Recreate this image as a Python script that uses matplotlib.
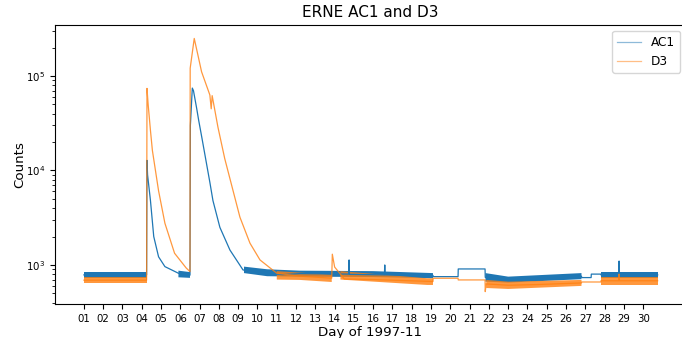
import matplotlib
matplotlib.use("Agg")
import matplotlib.pyplot as plt

nan = float("nan")

# day of month (fractional) and counts
ac1_day = [1.0, 4.25, 4.27, 4.30, 4.45, 4.62, 4.87, 5.2, 5.9, 6.3, 6.5,
           6.52, 6.62, 6.68, 6.85, 6.95, 7.12, 7.53, 7.69, 8.05, 8.57, 9.25,
           10.13, 11.3, 12.2, 14.73, 14.75, 14.77, 16.58, 16.6, 16.62, 19.1,
           19.11, 20.4, 20.41, 21.8, 21.81, 23.0, 24.0, 26.8, 26.81, 27.3,
           27.31, 27.8, 27.81, 28.73, 28.75, 28.77, 30.75]
ac1_counts = [785, 785, 12800, 9000, 4800, 2000, 1220, 960, 817, 784, 780,
              30000, 74600, 70000, 45000, 34000, 22000, 7500, 4800, 2500, 1440, 885,
              830, 790, 810, 800, 1130, 795, 785, 1000, 785, 775,
              752, 752, 907, 907, 740, 700, 720, 760, 735, 735,
              800, 800, 785, 785, 1100, 785, 785]

d3_day = [1.0, 4.25, 4.27, 4.33, 4.45, 4.55, 4.87, 5.2, 5.7, 6.3, 6.5,
          6.51, 6.72, 6.93, 7.1, 7.53, 7.6, 7.65, 7.95, 8.3, 9.09, 9.61,
          10.13, 11.0, 12.2, 13.85, 13.88, 14.0, 14.3, 14.5, 16.0, 19.1,
          19.11, 20.4, 20.41, 21.8, 21.81, 21.86, 23.0, 24.5, 26.8, 26.81,
          27.8, 27.81, 28.73, 28.75, 28.77, 30.75]
d3_counts = [690, 690, 74000, 50000, 26500, 16300, 6100, 2760, 1330, 930, 850,
             121000, 250000, 160000, 111000, 63000, 45000, 62000, 28700, 13400, 3200, 1700,
             1130, 817, 760, 725, 1300, 950, 800, 710, 700, 668,
             723, 723, 694, 694, 522, 630, 610, 620, 645, 660,
             660, 680, 680, 800, 680, 680]

# spread of the noisy stretches (lower / upper edge of the band)
ac1_band_day = [1.0, 4.25, nan, 5.9, 6.5, nan, 9.3, 10.5, 12.2, 16.0, 19.1,
                nan, 21.82, 23.0, 26.8, nan, 27.82, 30.75]
ac1_band_lo = [723, 723, nan, 740, 730, nan, 820, 760, 752, 745, 723,
               nan, 666, 650, 707, nan, 723, 723]
ac1_band_hi = [850, 850, nan, 870, 840, nan, 960, 900, 870, 860, 820,
               nan, 820, 752, 820, nan, 850, 850]

d3_band_day = [1.0, 4.25, nan, 11.0, 12.2, 13.85, nan, 14.3, 18.8, 19.1,
               nan, 21.86, 23.0, 26.8, nan, 27.82, 30.75]
d3_band_lo = [640, 640, nan, 700, 694, 660, nan, 700, 614, 614,
              nan, 570, 557, 600, nan, 614, 614]
d3_band_hi = [752, 752, nan, 860, 830, 790, nan, 860, 723, 723,
              nan, 694, 666, 694, nan, 752, 752]

tick_days = list(range(1, 31))
tick_labels = ["%02d" % d for d in tick_days]

fig = plt.figure(figsize=(6.82, 3.38), dpi=100)
ax = fig.add_axes([55 / 682, 1 - 304 / 338, (686 - 55) / 682, (304 - 25) / 338])

ax.fill_between(ac1_band_day, ac1_band_lo, ac1_band_hi, color="tab:blue", lw=0)
ax.plot(ac1_day, ac1_counts, color="tab:blue", lw=0.9, label="AC1")
ax.fill_between(d3_band_day, d3_band_lo, d3_band_hi, color="tab:orange",
                alpha=0.8, lw=0)
ax.plot(d3_day, d3_counts, color="tab:orange", lw=0.9, alpha=0.8, label="D3")

ax.set_yscale("log")
ax.set_xlim(-0.5, 32.22)
ax.set_ylim(386, 3.47e5)
ax.set_xticks(tick_days)
ax.set_xticklabels(tick_labels)
ax.tick_params(axis="x", labelsize=7.4, length=3.6)
ax.tick_params(axis="y", which="major", labelsize=7.4, length=3.6)
ax.tick_params(axis="y", which="minor", length=2)
ax.spines["right"].set_visible(False)

ax.set_xlabel("Day of 1997-11", fontsize=9.6, labelpad=1.5)
ax.set_ylabel("Counts", fontsize=9.6, labelpad=0)
ax.set_title("ERNE AC1 and D3", fontsize=11)
leg = ax.legend(loc="upper right", fontsize=8.7)
for h in leg.get_lines():
    h.set_alpha(0.5)

fig.savefig("out.png", dpi=100)
